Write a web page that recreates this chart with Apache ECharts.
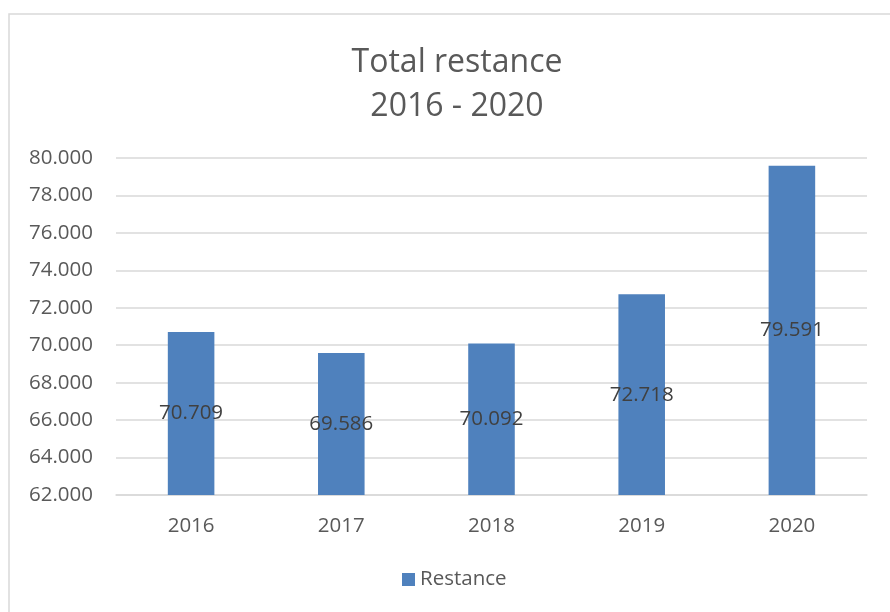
<!DOCTYPE html>
<html>
<head>
<meta charset="utf-8">
<script src="https://cdn.jsdelivr.net/npm/echarts@6/dist/echarts.min.js"></script>
<style>
html,body{margin:0;padding:0;background:#fff;}
#chart{width:890px;height:612px;}
</style>
</head>
<body>
<div id="chart"></div>
<script>
const categories = ['2016', '2017', '2018', '2019', '2020'];
const restance = [70709, 69586, 70092, 72718, 79591];
const seriesName = 'Restance';
const titleText = 'Total restance\n2016 - 2020';

function fmt(v) {
  const s = Math.round(v).toString();
  return s.replace(/\B(?=(\d{3})+(?!\d))/g, '.');
}

const chart = echarts.init(document.getElementById('chart'));
const font = '"Open Sans", "Noto Sans", sans-serif';
chart.setOption({
  animation: false,
  textStyle: { fontFamily: font },
  graphic: [{
    type: 'rect',
    shape: { x: 9, y: 14, width: 920, height: 700 },
    style: { fill: 'none', stroke: '#d9d9d9', lineWidth: 1.5 },
    silent: true,
    z: -1
  }],
  title: {
    text: titleText,
    left: 452,
    top: 36,
    textAlign: 'center',
    textStyle: { fontSize: 32, fontWeight: 'normal', color: '#595959', lineHeight: 44, fontFamily: font }
  },
  legend: {
    data: [seriesName],
    bottom: 17,
    left: 397,
    itemWidth: 13,
    itemHeight: 13,
    itemGap: 6,
    icon: 'rect',
    textStyle: { fontSize: 20.5, color: '#595959', fontFamily: font }
  },
  grid: { left: 116, right: 23, top: 158, bottom: 117, containLabel: false },
  xAxis: {
    type: 'category',
    data: categories,
    axisLine: { lineStyle: { color: '#d9d9d9', width: 1.5 } },
    axisTick: { show: false },
    axisLabel: { fontSize: 20.5, color: '#595959', margin: 21, fontFamily: font }
  },
  yAxis: {
    type: 'value',
    min: 62000,
    max: 80000,
    interval: 2000,
    axisLine: { show: false },
    axisTick: { show: false },
    splitLine: { lineStyle: { color: '#d9d9d9', width: 1.5 } },
    axisLabel: { fontSize: 20.5, color: '#595959', margin: 23, formatter: fmt, fontFamily: font }
  },
  series: [{
    name: seriesName,
    type: 'bar',
    data: restance,
    barWidth: '31%',
    itemStyle: { color: '#4f81bd' },
    label: {
      show: true,
      position: 'inside',
      fontSize: 20.5,
      color: '#404040',
      formatter: p => fmt(p.value),
      fontFamily: font
    }
  }]
});
</script>
</body>
</html>
